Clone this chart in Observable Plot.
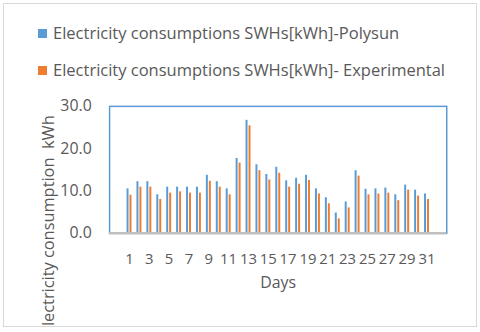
<!DOCTYPE html>
<html><head><meta charset="utf-8">
<script src="https://cdn.jsdelivr.net/npm/d3@7"></script>
<script src="https://cdn.jsdelivr.net/npm/@observablehq/plot@0.6"></script>
<style>
body{margin:0;background:#fff;font-family:"Open Sans",sans-serif;}
#chart{position:absolute;left:3px;top:3px;width:472px;height:322px;border:1px solid #D9D9D9;overflow:hidden;background:#fff;}
.leg{position:absolute;left:34px;font-size:16.5px;color:#595959;display:flex;align-items:center;white-space:nowrap;line-height:20px;}
.sw{width:9px;height:9px;margin-right:6px;}
#plot{position:absolute;left:-4px;top:86px;}
</style></head>
<body>
<div id="chart">
  <div class="leg" id="l1" style="top:19px"><span class="sw" style="background:#5B9BD5"></span><span class="t"></span></div>
  <div class="leg" id="l2" style="top:56px"><span class="sw" style="background:#ED7D31"></span><span class="t"></span></div>
  <div id="plot"></div>
</div>
<script>
const days = [1,2,3,4,5,6,7,8,9,10,11,12,13,14,15,16,17,18,19,20,21,22,23,24,25,26,27,28,29,30,31];
const polysun = [10.5,12.2,12.2,9.1,10.9,10.9,10.9,10.9,13.7,12.2,10.5,17.7,26.7,16.2,13.9,15.6,12.4,13.0,13.7,10.5,8.4,4.8,7.4,14.8,10.4,10.5,10.7,9.1,11.4,10.2,9.3];
const experimental = [9.0,10.9,10.9,8.0,9.5,9.8,9.5,9.5,12.3,10.9,9.1,16.6,25.4,14.8,12.6,14.2,10.9,11.6,12.5,9.3,7.0,3.4,6.0,13.5,9.1,9.3,9.5,7.7,10.2,8.8,8.0];
const seriesNames = ["Electricity consumptions SWHs[kWh]-Polysun", "Electricity consumptions SWHs[kWh]- Experimental"];
const xTicks = [1,3,5,7,9,11,13,15,17,19,21,23,25,27,29,31];
const yTicks = [0,10,20,30];
const xTitle = "Days";
const yTitle = "Electricity consumption  kWh";

document.querySelector("#l1 .t").textContent = seriesNames[0];
document.querySelector("#l2 .t").textContent = seriesNames[1];

const rowsP = days.map((d,i)=>({day:d, v:polysun[i]}));
const rowsE = days.map((d,i)=>({day:d, v:experimental[i]}));

const chart = Plot.plot({
  width: 480,
  height: 236,
  marginTop: 16,
  marginBottom: 92,
  marginLeft: 110,
  marginRight: 30,
  style: {fontFamily: "'Open Sans', sans-serif", fontSize: "16px", color: "#595959", background: "transparent", overflow: "visible"},
  x: {type: "band", domain: days, padding: 0},
  y: {domain: [0, 30]},
  marks: [
    Plot.frame({stroke: "#5B9BD5", strokeWidth: 1.5}),
    Plot.barY(rowsP, {x: "day", y: "v", fill: "#5B9BD5", insetLeft: 2.6, insetRight: 5.4}),
    Plot.barY(rowsE, {x: "day", y: "v", fill: "#ED7D31", insetLeft: 5.6, insetRight: 2.4}),
    Plot.ruleY([0], {stroke: "#BFBFBF", strokeWidth: 2.5}),
    Plot.axisX({ticks: xTicks, tickSize: 0, tickPadding: 20, label: null, fontSize: 15}),
    Plot.axisY({ticks: yTicks, tickFormat: d3.format(".1f"), tickSize: 0, tickPadding: 18, label: null, fontSize: 16}),
    Plot.text([xTitle], {text: d => d, frameAnchor: "bottom", dy: 55, fontSize: 16, fill: "#595959"}),
    Plot.text([yTitle], {text: d => d, frameAnchor: "top-left", rotate: -90, textAnchor: "end", dx: -68, dy: 9, fontSize: 16.5, fill: "#595959"})
  ]
});
document.getElementById("plot").appendChild(chart);
</script>
</body></html>
